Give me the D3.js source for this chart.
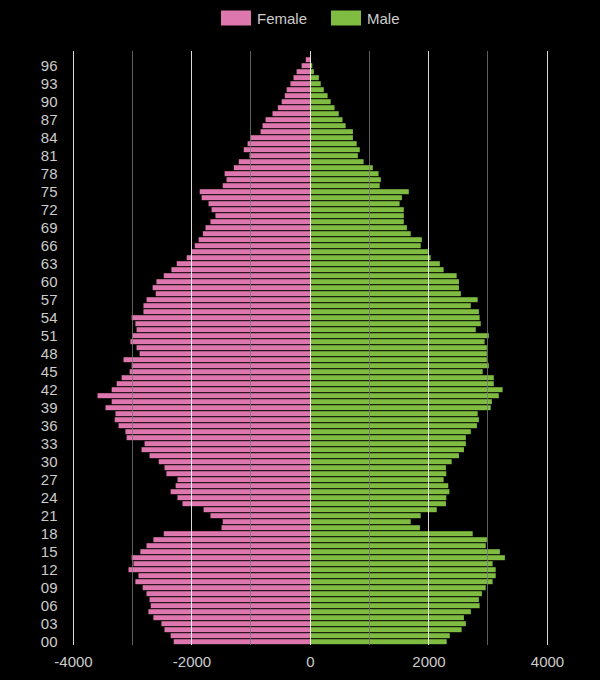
<!DOCTYPE html>
<html>
<head>
<meta charset="utf-8">
<script src="https://cdn.jsdelivr.net/npm/d3@7"></script>
<style>
  html, body { margin: 0; padding: 0; background: #000; }
  svg { display: block; }
  text { font-family: "Liberation Sans", Arial, sans-serif; }
</style>
</head>
<body>
<svg id="chart" width="600" height="680"></svg>
<script>
// Ages 0..98 (bottom to top)
const ages = d3.range(0, 99);

// Female counts by age 0..98
const female = [
  2300, 2352, 2456, 2507, 2643, 2727, 2688, 2708, 2759, 2824,
  2947, 2895, 3063, 2979, 3011, 2863, 2759, 2643, 2468, 1493,
  1473, 1680, 1796, 2152, 2236, 2352, 2268, 2236, 2423, 2456,
  2553, 2708, 2843, 2792, 3095, 3115, 3231, 3296, 3283, 3451,
  3347, 3586, 3347, 3263, 3179, 3044, 3011, 3147, 2876, 2927,
  3031, 2998, 2927, 2947, 3011, 2811, 2811, 2759, 2604, 2656,
  2591, 2468, 2339, 2249, 2081, 1997, 1945, 1880, 1809, 1764,
  1680, 1596, 1661, 1712, 1829, 1861, 1473, 1409, 1441, 1286,
  1202, 1021, 1118, 1053, 1002, 834, 801, 750, 633, 543,
  478, 426, 394, 330, 278, 226, 142, 71, 0
];

// Male counts by age 0..98
const male = [
  2307, 2359, 2559, 2630, 2598, 2714, 2863, 2850, 2901, 2966,
  3082, 3134, 3134, 3082, 3289, 3205, 2966, 2985, 2746, 1855,
  1700, 1868, 2139, 2294, 2300, 2352, 2333, 2255, 2300, 2294,
  2391, 2514, 2598, 2630, 2630, 2714, 2817, 2850, 2830, 3050,
  3069, 3186, 3250, 3102, 3102, 2914, 3018, 2985, 2985, 2985,
  2947, 3018, 2798, 2882, 2863, 2850, 2714, 2830, 2546, 2514,
  2514, 2475, 2255, 2191, 2036, 1990, 1868, 1887, 1700, 1635,
  1583, 1583, 1583, 1512, 1551, 1667, 1176, 1195, 1157, 1060,
  905, 808, 840, 788, 724, 724, 601, 549, 485, 414,
  349, 297, 233, 181, 149, 65, 39, 10, 0
];

const xTicks = [-4000, -2000, 0, 2000, 4000];
const gridValues = [-4000, -3000, -2000, -1000, 0, 1000, 2000, 3000, 4000];
const seriesNames = ["Female", "Male"];
const colors = ["#de77ae", "#7fbc41"];

const svg = d3.select("#chart");
const plotLeft = 73, plotRight = 547, plotTop = 50.7, plotBottom = 644.7;

const x = d3.scaleLinear().domain([-4000, 4000]).range([plotLeft, plotRight]);
const y = d3.scaleBand().domain(ages).range([plotBottom, plotTop]).paddingInner(0.17).paddingOuter(0.085);

// bars
const g = svg.append("g");
g.selectAll("rect.f").data(ages).join("rect")
  .attr("class", "f")
  .attr("x", d => x(-female[d]))
  .attr("y", d => y(d))
  .attr("width", d => x(0) - x(-female[d]))
  .attr("height", y.bandwidth())
  .attr("fill", colors[0]);
g.selectAll("rect.m").data(ages).join("rect")
  .attr("class", "m")
  .attr("x", x(0))
  .attr("y", d => y(d))
  .attr("width", d => x(male[d]) - x(0))
  .attr("height", y.bandwidth())
  .attr("fill", colors[1]);

// grid lines on top
svg.append("g").selectAll("line").data(gridValues).join("line")
  .attr("x1", d => x(d)).attr("x2", d => x(d))
  .attr("y1", plotTop).attr("y2", plotBottom)
  .attr("stroke", d => d % 2000 === 0 ? "#ffffff" : "#777777")
  .attr("stroke-opacity", d => d % 2000 === 0 ? 0.85 : 0.8)
  .attr("stroke-width", 1)
  .attr("shape-rendering", "crispEdges");

// x axis
const xAxis = d3.axisBottom(x).tickValues(xTicks).tickFormat(d => String(d)).tickSize(0).tickPadding(0);
const xg = svg.append("g").attr("transform", `translate(0,${plotBottom})`).call(xAxis);
xg.select(".domain").remove();
xg.selectAll("text")
  .attr("fill", "#cccccc")
  .attr("font-size", "15px")
  .attr("dy", "0")
  .attr("y", 22);

// y axis
const yAxis = d3.axisLeft(y)
  .tickValues(ages.filter(a => a % 3 === 0))
  .tickFormat(d => String(d).padStart(2, "0"))
  .tickSize(0).tickPadding(0);
const yg = svg.append("g").attr("transform", `translate(57.5,0)`).call(yAxis);
yg.select(".domain").remove();
yg.selectAll("text")
  .attr("fill", "#cccccc")
  .attr("font-size", "15px")
  .attr("dy", "0.36em");

// legend
const legendX = [221, 331];
const lg = svg.append("g");
seriesNames.forEach((name, i) => {
  lg.append("rect")
    .attr("x", legendX[i]).attr("y", 10.5)
    .attr("width", 30).attr("height", 15)
    .attr("fill", colors[i]);
  lg.append("text")
    .attr("x", legendX[i] + 36).attr("y", 23.5)
    .attr("fill", "#cccccc")
    .attr("font-size", "15px")
    .text(name);
});
</script>
</body>
</html>
